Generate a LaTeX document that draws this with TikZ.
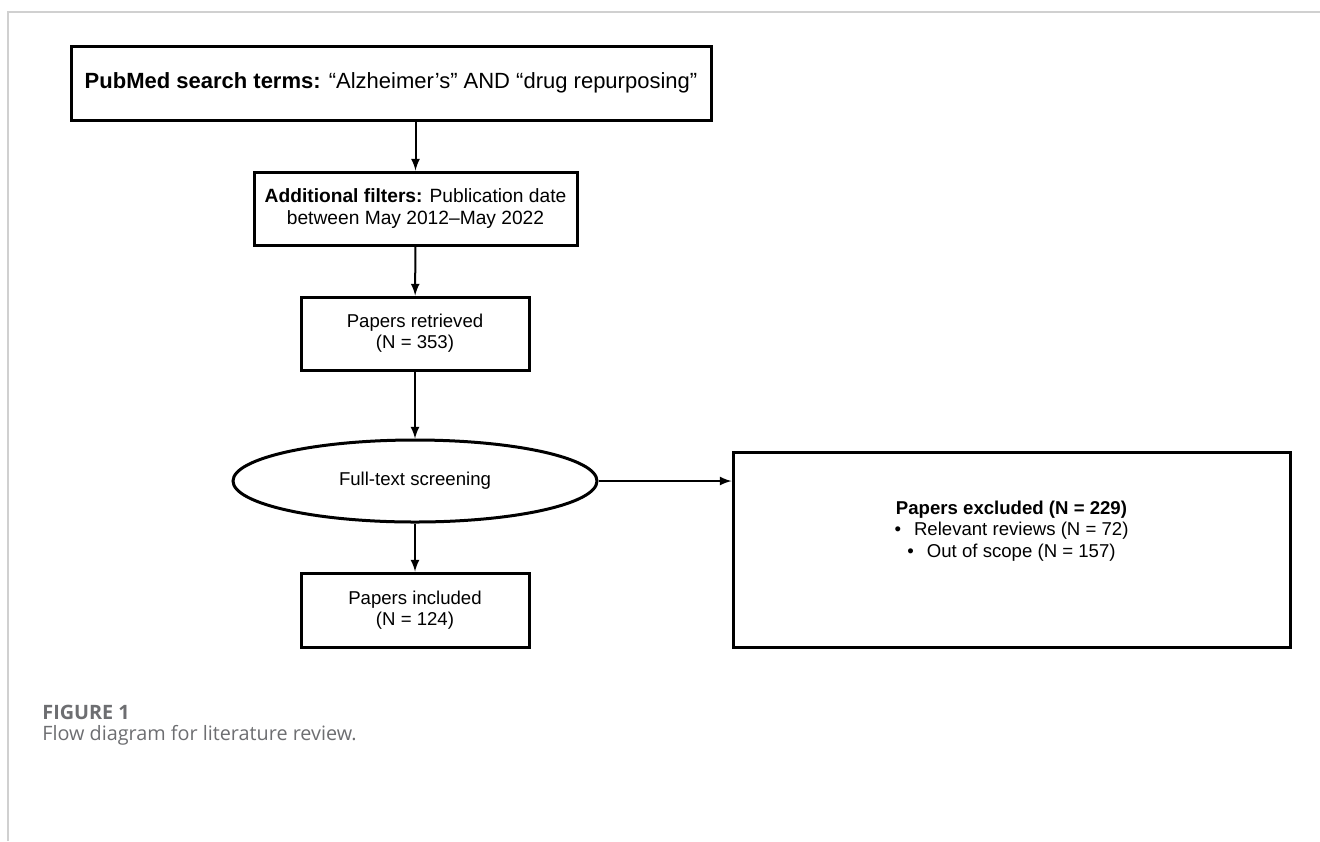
\documentclass[tikz,border=0pt]{standalone}
\usepackage{fontspec}
\setmainfont{Liberation Sans}
\newfontfamily\capfont{Open Sans}
\usetikzlibrary{shapes.geometric}

\definecolor{framegray}{HTML}{D0D0D0}
\definecolor{capgray}{HTML}{6D6E71}

\tikzset{
  box/.style={draw, line width=1.5pt, align=center, inner sep=0pt,
    font=\fontsize{9.3}{10.6}\selectfont},
  flow/.style={line width=1pt, -latex}
}

\begin{document}
\begin{tikzpicture}[x=0.5pt, y=-0.5pt]
                \useasboundingbox (0, 0) rectangle (1320, 841);
                \draw [framegray, line width=0.6pt] (8, 841) -- (8, 12) -- (1320, 12);
                \node [box, minimum width=320pt, minimum height=37pt, font=\fontsize{11}{13}\selectfont] (search) at (391, 83)
                    {\textbf{PubMed search terms:} “Alzheimer’s” AND “drug repurposing”};
                \node [box, minimum width=161.5pt, minimum height=36.5pt, font=\fontsize{9.6}{10.8}\selectfont] (filters) at (415.5, 208.5)
                    {\textbf{Additional filters:} Publication date\\between May 2012–May 2022};
                \node [box, minimum width=114pt, minimum height=36.5pt] (retrieved) at (415, 333.5)
                    {Papers retrieved\\(N = 353)};
                \node [box, ellipse, minimum width=182pt, minimum height=41pt] (screening) at (415, 481)
                    {Full-text screening};
                \node [box, minimum width=114pt, minimum height=37pt] (included) at (415, 610)
                    {Papers included\\(N = 124)};
                \node [box, minimum width=278.5pt, minimum height=97.5pt] (excluded) at (1011.5, 549.5) {};
                \node [align=center, font=\fontsize{9.3}{10.6}\selectfont] (exclist) at (1011.5, 531)
                    {\textbf{Papers excluded (N = 229)}\\
                     •\hspace{0.7em}Relevant reviews (N = 72)\\
                     •\hspace{0.7em}Out of scope (N = 157)};
                \draw [flow] (search.south -| filters.north) -- (filters.north);
                \draw [flow] (filters) -- (retrieved);
                \draw [flow] (retrieved) -- (screening);
                \draw [flow] (screening) -- (included);
                \draw [flow] (screening.east) -- (screening.east -| excluded.west);
                % caption
                \node [anchor=west, inner sep=0pt, text=capgray, font=\capfont\bfseries\fontsize{9.9}{11}\selectfont] (capnum) at (42, 712) {FIGURE 1};
                \node [anchor=west, inner sep=0pt, text=capgray, font=\capfont\fontsize{9.9}{11}\selectfont] (captext) at (42, 735) {Flow diagram for literature review.};
            \end{tikzpicture}
\end{document}
